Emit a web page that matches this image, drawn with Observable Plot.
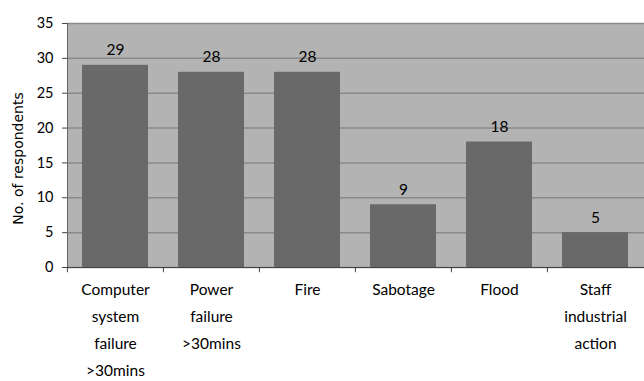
<!DOCTYPE html>
<html>
<head>
<meta charset="utf-8">
<script src="https://cdn.jsdelivr.net/npm/d3@7"></script>
<script src="https://cdn.jsdelivr.net/npm/@observablehq/plot@0.6"></script>
<style>
  html, body { margin: 0; padding: 0; background: #fff; }
</style>
</head>
<body>
<div id="chart"></div>
<script>
const categories = ["Computer\nsystem\nfailure\n>30mins", "Power\nfailure\n>30mins", "Fire", "Sabotage", "Flood", "Staff\nindustrial\naction"];
const values = [29, 28, 28, 9, 18, 5];
const yTicks = [0, 5, 10, 15, 20, 25, 30, 35];
const yLabel = "No. of respondents";

const data = categories.map((c, i) => ({category: c, value: values[i]}));

const chart = Plot.plot({
  width: 644,
  height: 381,
  marginLeft: 67,
  marginRight: 0,
  marginTop: 23,
  marginBottom: 114,
  style: {fontFamily: "Lato, 'DejaVu Sans', sans-serif", fontSize: "15px", background: "#fff", color: "#000"},
  x: {domain: categories, paddingInner: 0.31, paddingOuter: 0.155, axis: null},
  y: {domain: [0, 35]},
  marks: [
    Plot.frame({fill: "#b3b3b3", stroke: null}),
    Plot.ruleY(yTicks, {stroke: "#8a8a8a", strokeWidth: 1.5}),
    Plot.barY(data, {x: "category", y: "value", fill: "#696969"}),
    Plot.frame({anchor: "left", stroke: "#666"}),
    Plot.ruleY([0], {stroke: "#444"}),
    Plot.axisY({ticks: yTicks, tickSize: 5, tickPadding: 9, label: null, fontSize: 14.5, stroke: "#444"}),
    Plot.ruleX(categories, {x: d => d, dx: -48.08, y1: 0, y2: -0.75, stroke: "#444"}),
    Plot.text(data, {x: "category", y: "value", text: d => String(d.value), dy: -10, lineAnchor: "bottom", fontSize: 15.5}),
    Plot.text(data, {x: "category", y: 0, text: "category", lineAnchor: "top", dy: 8, lineHeight: 1.742, fontSize: 15.5}),
    Plot.text([yLabel], {frameAnchor: "left", textAnchor: "middle", rotate: -90, dx: -49, dy: 13, text: d => d, fontSize: 14, fontFamily: "'DejaVu Sans', sans-serif"})
  ]
});
document.getElementById("chart").appendChild(chart);
</script>
</body>
</html>
